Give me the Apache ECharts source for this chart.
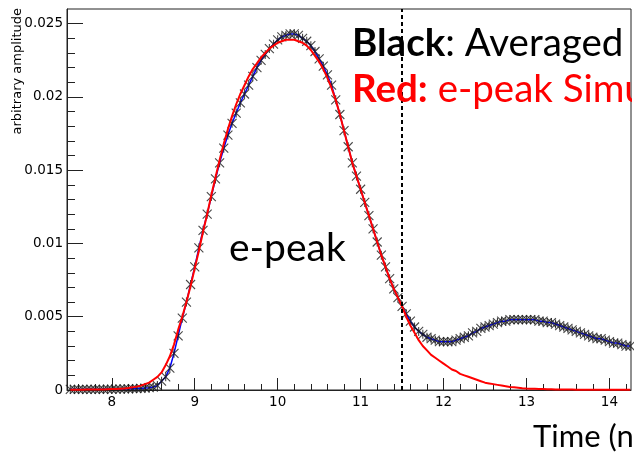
<!DOCTYPE html>
<html>
<head>
<meta charset="utf-8">
<script src="https://cdn.jsdelivr.net/npm/echarts@6/dist/echarts.min.js"></script>
<style>
html,body{margin:0;padding:0;background:#fff;}
#chart{width:634px;height:454px;}
</style>
</head>
<body>
<div id="chart"></div>
<script>
// Time axis samples (ns)
const time = [
 7.50,7.55,7.60,7.65,7.70,7.75,7.80,7.85,7.90,7.95,
 8.00,8.05,8.10,8.15,8.20,8.25,8.30,8.35,8.40,8.45,
 8.50,8.55,8.60,8.65,8.70,8.75,8.80,8.85,8.90,8.95,
 9.00,9.05,9.10,9.15,9.20,9.25,9.30,9.35,9.40,9.45,
 9.50,9.55,9.60,9.65,9.70,9.75,9.80,9.85,9.90,9.95,
 10.00,10.05,10.10,10.15,10.20,10.25,10.30,10.35,10.40,10.45,
 10.50,10.55,10.60,10.65,10.70,10.75,10.80,10.85,10.90,10.95,
 11.00,11.05,11.10,11.15,11.20,11.25,11.30,11.35,11.40,11.45,
 11.50,11.55,11.60,11.65,11.70,11.75,11.80,11.85,11.90,11.95,
 12.00,12.05,12.10,12.15,12.20,12.25,12.30,12.35,12.40,12.45,
 12.50,12.55,12.60,12.65,12.70,12.75,12.80,12.85,12.90,12.95,
 13.00,13.05,13.10,13.15,13.20,13.25,13.30,13.35,13.40,13.45,
 13.50,13.55,13.60,13.65,13.70,13.75,13.80,13.85,13.90,13.95,
 14.00,14.05,14.10,14.15,14.20,14.25
];
// Black: averaged measurement
const averaged = [
 0.00005,0.00004,0.00005,0.00004,0.00005,0.00005,0.00004,0.00005,0.00005,0.00006,
 0.00005,0.00006,0.00006,0.00007,0.00008,0.00009,0.0001,0.00011,0.00013,0.00016,
 0.0002,0.0003,0.0006,0.0009,0.0015,0.0025,0.0037,0.0049,0.0060,0.0072,
 0.0084,0.0097,0.0109,0.0120,0.0132,0.0144,0.0155,0.0165,0.0174,0.0182,
 0.0189,0.0196,0.0202,0.0208,0.0214,0.0220,0.0225,0.0229,0.0233,0.0236,
 0.0239,0.0241,0.0242,0.0243,0.0243,0.0242,0.0240,0.0238,0.0235,0.0231,
 0.0226,0.0221,0.0215,0.0208,0.0198,0.0188,0.0177,0.0166,0.0155,0.0146,
 0.0137,0.0128,0.0119,0.0110,0.0101,0.0092,0.0084,0.0076,0.0069,0.0063,
 0.0057,0.0052,0.0047,0.0043,0.0040,0.0038,0.0036,0.0035,0.0034,0.0033,
 0.0033,0.0033,0.0033,0.0034,0.0035,0.0036,0.0037,0.0039,0.0040,0.0042,
 0.0043,0.0044,0.0045,0.0046,0.0047,0.0047,0.0048,0.0048,0.0048,0.0048,
 0.0048,0.0048,0.0048,0.0047,0.0047,0.0046,0.0046,0.0045,0.0044,0.0043,
 0.0042,0.0041,0.0040,0.0039,0.0038,0.0037,0.0036,0.0035,0.0035,0.0034,
 0.0033,0.0032,0.0032,0.0031,0.0030,0.0030
];
// Red: e-peak simulation
const simulation = [
 0.00002,0.00002,0.00002,0.00002,0.00003,0.00003,0.00003,0.00004,0.00004,0.00005,
 0.00006,0.00007,0.00009,0.00011,0.00014,0.00018,0.00023,0.0003,0.0004,0.0005,
 0.0007,0.0009,0.0012,0.0017,0.0023,0.0031,0.0041,0.0050,0.0060,0.0071,
 0.0083,0.0095,0.0108,0.0120,0.0133,0.0145,0.0157,0.0168,0.0178,0.0187,
 0.0195,0.0202,0.0208,0.0214,0.0219,0.0223,0.0227,0.0230,0.0233,0.0235,
 0.0237,0.0238,0.0239,0.0239,0.0239,0.0238,0.0237,0.0235,0.0232,0.0228,
 0.0224,0.0219,0.0213,0.0206,0.0198,0.0188,0.0177,0.0166,0.0155,0.0146,
 0.0137,0.0128,0.0119,0.0110,0.0101,0.0092,0.0084,0.0076,0.0069,0.0063,
 0.0057,0.0050,0.0044,0.0039,0.0034,0.0030,0.0027,0.0024,0.0022,0.0020,
 0.0018,0.0016,0.0014,0.0013,0.0011,0.0010,0.0009,0.0008,0.0007,0.0006,
 0.0005,0.00045,0.0004,0.00035,0.0003,0.00025,0.0002,0.00018,0.00015,0.00012,
 0.0001,0.00009,0.00008,0.00007,0.00006,0.00005,0.00005,0.00004,0.00004,0.00003,
 0.00003,0.00003,0.00002,0.00002,0.00002,0.00002,0.00002,0.00001,0.00001,0.00001,
 0.00001,0.00001,0.00001,0.00001,0.00001,0.00001
];
const xMajorTicks = [8, 9, 10, 11, 12, 13, 14];
const xMinorTicks = [7.6,7.8,8.2,8.4,8.6,8.8,9.2,9.4,9.6,9.8,10.2,10.4,10.6,10.8,11.2,11.4,11.6,11.8,12.2,12.4,12.6,12.8,13.2,13.4,13.6,13.8,14.2];
const yMajorTicks = [0, 0.005, 0.01, 0.015, 0.02, 0.025];
const yMinorTicks = [0.001,0.002,0.003,0.004,0.006,0.007,0.008,0.009,0.011,0.012,0.013,0.014,0.016,0.017,0.018,0.019,0.021,0.022,0.023,0.024];
const cutTime = 11.5;

const avgData = time.map((t, i) => [t, averaged[i]]);
const simData = time.map((t, i) => [t, simulation[i]]);

const chart = echarts.init(document.getElementById('chart'), null, {renderer: 'canvas'});
const frameColor = '#222';
const labelStyle = {fontFamily: 'DejaVu Sans', fontSize: 13.5, color: '#000'};
const xRange = {min: 7.46, max: 14.26};
const yRange = {min: 0, max: 0.026};

chart.setOption({
  animation: false,
  backgroundColor: '#fff',
  grid: {left: 67, right: 3, top: 9, bottom: 64, show: true, borderColor: frameColor, borderWidth: 1, backgroundColor: 'transparent'},
  xAxis: [
    Object.assign({type: 'value', position: 'bottom',
      axisLine: {show: true, lineStyle: {color: frameColor, width: 1}},
      axisTick: {show: true, inside: true, length: 12, customValues: xMajorTicks, lineStyle: {color: frameColor, width: 1}},
      axisLabel: Object.assign({customValues: xMajorTicks, margin: 5}, labelStyle),
      splitLine: {show: false}}, xRange),
    Object.assign({type: 'value', position: 'bottom',
      axisLine: {show: false},
      axisTick: {show: true, inside: true, length: 6, customValues: xMinorTicks, lineStyle: {color: frameColor, width: 1}},
      axisLabel: {show: false},
      splitLine: {show: false}}, xRange)
  ],
  yAxis: [
    Object.assign({type: 'value', position: 'left',
      axisLine: {show: true, lineStyle: {color: frameColor, width: 1}},
      axisTick: {show: true, inside: true, length: 16, customValues: yMajorTicks, lineStyle: {color: frameColor, width: 1}},
      axisLabel: Object.assign({customValues: yMajorTicks, margin: 4, formatter: v => String(+(+v).toFixed(3))}, labelStyle),
      splitLine: {show: false}}, yRange),
    Object.assign({type: 'value', position: 'left',
      axisLine: {show: false},
      axisTick: {show: true, inside: true, length: 8, customValues: yMinorTicks, lineStyle: {color: frameColor, width: 1}},
      axisLabel: {show: false},
      splitLine: {show: false}}, yRange)
  ],
  series: [
    {
      name: 'Averaged line', type: 'line', xAxisIndex: 0, yAxisIndex: 0,
      data: avgData, showSymbol: false, symbol: 'none',
      lineStyle: {color: '#0000ff', width: 1.5},
      z: 2
    },
    {
      name: 'Averaged', type: 'scatter', xAxisIndex: 0, yAxisIndex: 0,
      data: avgData,
      symbol: 'path://M0,0L10,10M10,0L0,10M5,0L5,10',
      symbolSize: 9,
      itemStyle: {color: 'rgba(0,0,0,0)', borderColor: '#1a1a1a', borderWidth: 1.1},
      z: 3
    },
    {
      name: 'e-peak Simulation', type: 'line', xAxisIndex: 0, yAxisIndex: 0,
      data: simData, showSymbol: false, symbol: 'none',
      lineStyle: {color: '#ff0000', width: 2},
      z: 4,
      markLine: {
        silent: true, symbol: ['none', 'none'], label: {show: false},
        lineStyle: {color: '#000', width: 2, type: [4, 3]},
        data: [{xAxis: cutTime}]
      }
    }
  ],
  graphic: [
    {type: 'text', x: 18, y: 8, rotation: Math.PI / 2, z: 100,
      style: {text: 'arbitrary amplitude', align: 'right', verticalAlign: 'middle',
        fontFamily: 'DejaVu Sans', fontSize: 13, fill: '#000'}},
    {type: 'text', x: 352, y: 24, z: 100,
      style: {text: '{b|Black}{n|: Averaged}', align: 'left', verticalAlign: 'top',
        rich: {b: {fontFamily: 'Lato', fontSize: 38.5, fontWeight: 'bold', fill: '#000'},
               n: {fontFamily: 'Lato', fontSize: 38.5, fill: '#000'}}}},
    {type: 'text', x: 352, y: 70, z: 100,
      style: {text: '{b|Red:}{n| e-peak Simulation}', align: 'left', verticalAlign: 'top',
        rich: {b: {fontFamily: 'Lato', fontSize: 38.5, fontWeight: 'bold', fill: '#ff0000'},
               n: {fontFamily: 'Lato', fontSize: 38.5, fill: '#ff0000'}}}},
    {type: 'rect', z: 101, shape: {x: 632, y: 62, width: 4, height: 60}, style: {fill: '#fff'}},
    {type: 'text', x: 229, y: 229, z: 100,
      style: {text: 'e-peak', align: 'left', verticalAlign: 'top', fontFamily: 'Lato', fontSize: 39, fill: '#000'}},
    {type: 'text', x: 533, y: 421, z: 100,
      style: {text: 'Time (ns)', align: 'left', verticalAlign: 'top', fontFamily: 'Lato', fontSize: 31, fill: '#000'}}
  ]
});
</script>
</body>
</html>
